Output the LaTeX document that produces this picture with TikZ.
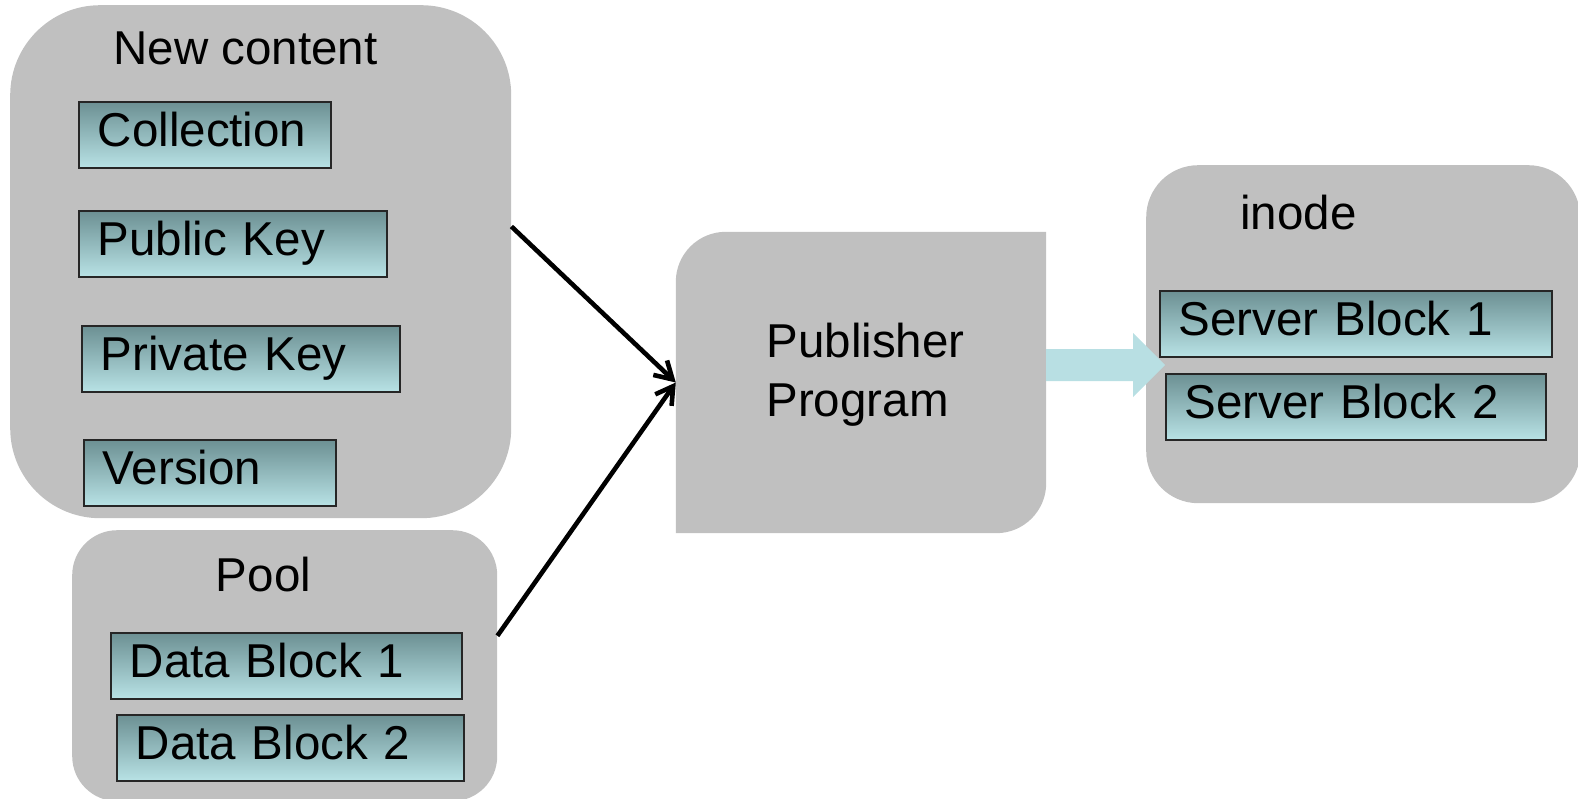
\documentclass[tikz,border=0pt]{standalone}
\usepackage{fontspec}
\setmainfont{Liberation Sans}
\usepackage{tikz}
\usetikzlibrary{arrows.meta, positioning, calc}
\definecolor{boxgray}{RGB}{192,192,192}
\definecolor{fieldtop}{RGB}{108,144,147}
\definecolor{fieldbot}{RGB}{184,226,229}
\definecolor{flowcol}{RGB}{184,223,227}
\newcommand{\slidefont}{\fontsize{47.5}{59}\selectfont}
\tikzset{
  groupnode/.style={rectangle,fill=boxgray,inner sep=0pt,anchor=north west},
  fieldnode/.style={rectangle,draw=black!85,line width=1.6pt,top color=fieldtop,bottom color=fieldbot,
    anchor=north west,inner xsep=19pt,inner ysep=0pt,minimum height=66pt,
    text height=34pt,text depth=11pt,align=left,font=\slidefont},
  titlenode/.style={anchor=base,inner sep=0pt,font=\slidefont},
  arr/.style={-{Straight Barb[length=17pt,width=20pt]},line width=4.6pt,color=black}
}

\begin{document}
\begin{tikzpicture}[x=1pt,y=1pt]
  \useasboundingbox (0,0) rectangle (1578,-799);

  %% Grey group boxes
  \node[groupnode,rounded corners=90pt,minimum width=501pt,minimum height=513pt] (newbox) at (10,-5) {};
  \node[groupnode,rounded corners=45pt,minimum width=425pt,minimum height=271pt] (pool) at (72,-530) {};
  \node[groupnode,rounded corners=52pt,minimum width=434pt,minimum height=338pt] (inode) at (1146,-165) {};

  %% Publisher box: only two corners rounded
  \node[rectangle,inner sep=0pt,minimum width=370pt,minimum height=301pt] (pub) at (861,-382.5) {};
  \fill[boxgray] (pub.south west) -- ([yshift=-50pt]pub.north west)
    arc[start angle=180,end angle=90,radius=50pt] -- (pub.north east)
    -- ([yshift=50pt]pub.south east) arc[start angle=0,end angle=-90,radius=50pt] -- cycle;

  %% Titles
  \node[titlenode] (newtitle) at (245.5,-65) {New content};
  \node[titlenode] (pooltitle) at (263.5,-591) {Pool};
  \node[titlenode] (inodetitle) at (1298.5,-230) {inode};
  \node[titlenode,anchor=center,align=left] (pubtext) at (865.5,-375.2) {Publisher\\Program};

  %% Fields
  \foreach \nm/\x/\y/\w/\txt in {coll/78/101/214/Collection, pubkey/78/210/270/Public Key,
      privkey/81/325/280/Private Key, ver/83/439/214/Version,
      data1/110/632/313/Data Block 1, data2/116/714/309/Data Block 2,
      srv1/1159/290/354/Server Block 1, srv2/1165/373/342/Server Block 2} {
    \node[fieldnode,text width=\w pt] (\nm) at (\x,-\y) {\txt};
  }

  %% Inputs into the publisher
  \draw[arr] (newbox.8.7) -- (pub.west);
  \draw[arr] (pool.8.7) -- (pub.west);

  %% Output arrow
  \coordinate (flow) at ([yshift=17.5pt]pub.east);
  \fill[flowcol] (flow) ++(0,16) -- ++(87,0) -- ++(0,16) -- ++(32,-32)
    -- ++(-32,-32) -- ++(0,16) -- ++(-87,0) -- cycle;
\end{tikzpicture}
\end{document}
